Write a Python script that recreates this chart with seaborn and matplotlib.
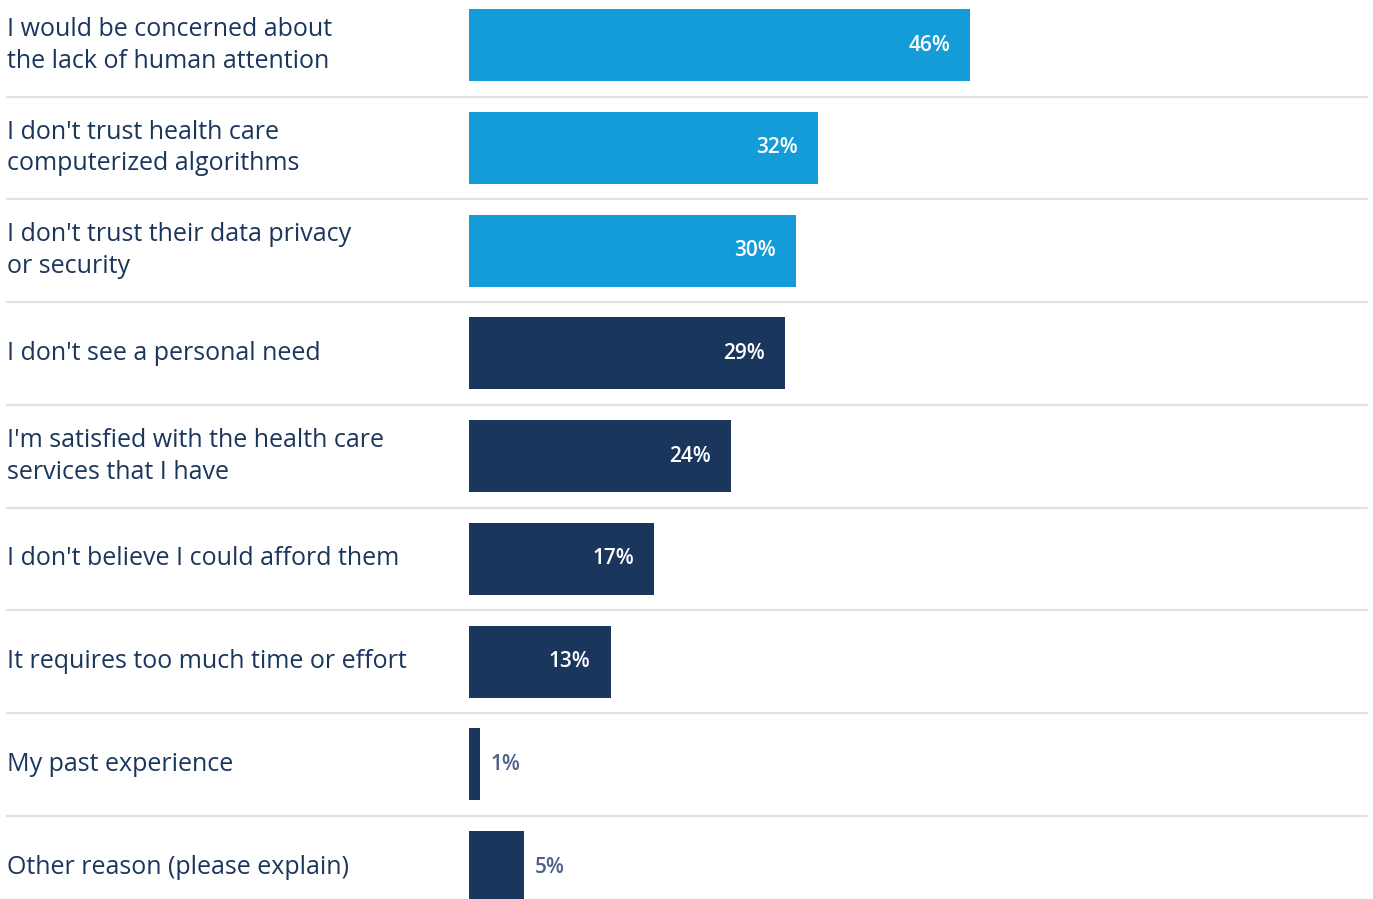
import matplotlib
matplotlib.use("Agg")
import matplotlib.pyplot as plt
import matplotlib.transforms as mtransforms
import seaborn as sns
import pandas as pd

# Reasons for not using the service (share of respondents, %)
reasons = [
    "I would be concerned about\nthe lack of human attention",
    "I don't trust health care\ncomputerized algorithms",
    "I don't trust their data privacy\nor security",
    "I don't see a personal need",
    "I'm satisfied with the health care\nservices that I have",
    "I don't believe I could afford them",
    "It requires too much time or effort",
    "My past experience",
    "Other reason (please explain)",
]
shares = [46, 32, 30, 29, 24, 17, 13, 1, 5]
groups = ["trust", "trust", "trust", "other", "other", "other", "other", "other", "other"]

LIGHT_BLUE = "#149cd8"
NAVY = "#1a365d"
TEXT = "#1b365d"
MUTED = "#4f6289"
RULE = "#dde1e8"

df = pd.DataFrame({"reason": reasons, "share": shares, "group": groups})

sns.set_theme(style="white")
plt.rcParams["font.family"] = ["Open Sans", "DejaVu Sans"]

fig = plt.figure(figsize=(13.73, 8.99), dpi=100)
ax = fig.add_axes([0, 0, 1, 1])

sns.barplot(
    data=df, x="share", y="reason", hue="group",
    palette={"trust": LIGHT_BLUE, "other": NAVY},
    orient="h", width=0.70, dodge=False, legend=False,
    saturation=1, linewidth=0, ax=ax,
)

# horizontal scale: zero sits at the left edge of the bar column
px_per_unit = 10.9
x0_px = 469
W = 1373
ax.set_xlim(-x0_px / px_per_unit, (W - x0_px) / px_per_unit)
ax.set_ylim(8.31, -0.44)
ax.axis("off")

# thin rules between rows
for i in range(len(reasons) - 1):
    ax.axhline(i + 0.5, xmin=7 / W, xmax=1367 / W, color=RULE, lw=1.6)

# category labels on the left
lab_tr = mtransforms.blended_transform_factory(ax.transAxes, ax.transData)
for i, r in enumerate(reasons):
    ax.text(7 / W, i, r, transform=lab_tr, ha="left", va="center",
            fontsize=18, color=TEXT, linespacing=1.36)

# value labels: inside for wide bars, outside for narrow ones
pad = 20 / px_per_unit
for i, v in enumerate(shares):
    if v >= 10:
        ax.text(v - pad, i, f"{v}%", ha="right", va="center",
                fontsize=15, color="white", fontweight="semibold")
    else:
        ax.text(v + 11 / px_per_unit, i, f"{v}%", ha="left", va="center",
                fontsize=15, color=MUTED, fontweight="semibold")

fig.savefig("out.png", dpi=100, facecolor="white")
